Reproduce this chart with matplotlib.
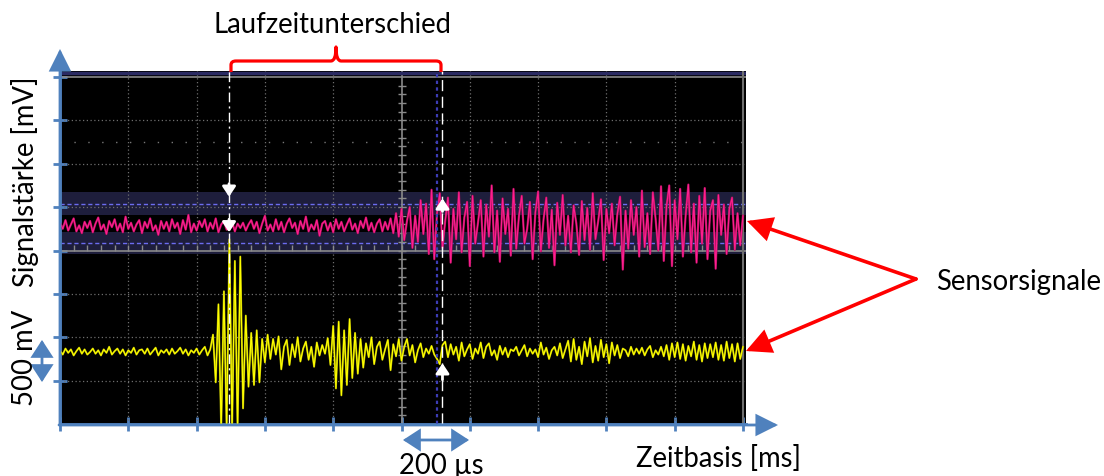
import numpy as np
import matplotlib
matplotlib.use('Agg')
import matplotlib.pyplot as plt
from matplotlib.patches import FancyArrowPatch, PathPatch
from matplotlib.path import Path

plt.rcParams['font.family'] = ['Lato', 'DejaVu Sans']

# scope settings: 10 x 8 divisions
us_per_div = 200
mv_per_div = 500

# channel 2 (magenta), mV around its offset
pink_offset_mv = 280
pink_mv = [
    40, -30, 70, -50, 20, 90, -60, 10, -80, 50, -20, 60, -70, 30, 100, -40, 20, -90, 60, -10,
    80, -50, 30, -70, 110, -30, 40, -60, 20, 70, -80, 50, -20, 90, -50, 10, -100, 60, -30, 50,
    -60, 80, -20, 40, -90, 70, -40, 130, -70, 30, -50, 60, -10, 80, -60, 40, -30, 90, -70, 20,
    60, -40, 10, 50, -60, 30, -20, 40, -50, 20, 70, -30, 50, -80, 30, 120, -50, 20, -60, 80,
    -40, 50, -70, 30, 90, -20, 40, -90, 60, -30, 110, -60, 20, -40, 70, -110, 30, 60, -50, 40,
    -70, 80, -30, 50, -60, 20, 90, -40, 30, -80, 60, -20, 100, -50, 40, -70, 30, 80, -60, 50,
    -40, 90, -80,
    150, -120, 200, -160, 60, 220, -250, 120, -180, 300, -90, 260, -320,
    420, -380, 150, 380, -250, 60, 330, -420, 200, -150, 390, -300, 100, 280, -460, 350, -200, 40, 300, -350,
    250, -120, 470, -300, 180, -410, 320, -90, 200, -340, 430, -260, 120, 350, -200, -30, 280, -380, 160, 400,
    -290, 80, 330, -250, 190, -450, 270, -100, 360, -220, 120, -300, 240, 30, -330, 290, -160, 210, -270, 380,
    -150, 60, 310, -390, 200, -80, 260, -220, 140, 340, -500, 180, -260, 300, -100, 220, -350, 410, -240, 150,
    -320, 390, 90, -280, 460, -400, 230, 470, -460, 300, -150, 430, -350, 120, 480, -300, 260, -420, 350, -200,
    440, -380, 180, 300, -490, 360, -100, 250, -320, 200, 330, -270, 150, -220, 120,
]

# channel 1 (yellow)
yellow_offset_mv = -1170
yellow_mv = [
    20, -30, 40, -10, 30, -40, 10, 50, -20, 30, -30, 0, 40, -20, 20, -40, 30, -10, 60, -30,
    10, 40, -20, 30, -40, 20, -10, 50, -30, 20, 30, -20, 40, -30, 10, 50, -40, 20, -10, 30,
    -30, 40, -20, 10, 50, -20, 30, -40, 20, -10, 40, -30, 20, 60, -40, 30,
    200, -350, 550, -900, 700, -900, 1300, -900, 1050, -900, 1100, -650, 420, -400, 220, -380, 250, -350, 150,
    -120, 200, -80, 150, -30, 180, -200, 60, 140, -150, 90, -60, 170, -110, 40, 120, -90, 60, -170, 110,
    -40, 80, -20, 160,
    -150, 300, -420, 350, -500, 250, -380, 380, -300, 220, -250, 150,
    -180, 100, -60, 170, -140, 60, 120, -90, 30, 140, -210, 90, -50, 150,
    -100, 60, 150, -40, 80, -120, 20, 100, -60, 40, -20, 70, -30, -80, -140, 80,
    120, -60, 90, -30, 60, -100, 110, -50, 30, 90, -80, 40, -20, 110, -70, 60, 100, -40, 20, -90,
    70, -30, 50, -60, 30, 10, 60, -40, 20, 80, -50, 40, -20, 30, -60, 110, -30, 50, -80, 20,
    60, -40, 100, -70, 30, 130, -110, 150, -90, 60, -140, 120, -50, 160, -120, 70, -100, 140, -60, 90,
    -130, 110, -40, 80, -70, 40, 20, -50, 60, -30, 40, -20, 50, -40, 30, 70, -60, 20, -30, 60,
    -50, 80, -90, 100, -60, 110, -80, 90, -100, 70, -50, 120, -90, 80, -110, 100, -70, 90, -60, 110,
    -90, 80, -100, 120, -70, 90, -110, 100, -80, 60,
]

cursor_a_us = 495
cursor_b_us = 1120
cursor_ref_us = 1105

band_mv = (-40, 674)
band_inner_mv = (213, 409)
band_levels_mv = [86, 536]

W, H = 1104, 477
fig = plt.figure(figsize=(W / 100, H / 100), dpi=100)

# scope screen
ax = fig.add_axes([60 / W, (H - 425) / H, 686 / W, 353 / H])
ax.set_facecolor('black')
ax.set_xlim(0, 10 * us_per_div * 686 / 683)
ax.set_ylim(-4 * mv_per_div, 4 * mv_per_div + 6 / 43.375 * mv_per_div)

ax.axhspan(*band_mv, color='#1e1e3c', lw=0, zorder=1)
ax.axhspan(*band_inner_mv, color='black', lw=0, zorder=1.1)
for lv in band_levels_mv:
    ax.axhline(lv, color='#6c6cf0', lw=1, ls=(0, (3, 2)), zorder=2)

grid_c = '#6e6e6e'
for k in range(1, 10):
    if k != 5:
        ax.axvline(k * us_per_div, color=grid_c, lw=0.9, ls=(0, (1, 2)), zorder=2)
for k in range(-3, 4):
    if k != 0:
        ax.axhline(k * mv_per_div, color=grid_c, lw=0.9, ls=(0, (1, 2)), zorder=2)
ax.axhline(2.5 * mv_per_div, color='#777777', lw=1, ls=(0, (1, 9)), zorder=2)

# center axes with minor ticks
ax.axvline(5 * us_per_div, color='#8a8a8a', lw=1.2, zorder=2)
ax.axhline(0, color='#8a8a8a', lw=1.2, zorder=2)
ym = np.arange(-1900, 2000, 100)
ax.plot(np.full(len(ym), 5 * us_per_div), ym, ls='none', marker='_', ms=6, mew=1, color='#8a8a8a', zorder=2)
xm = np.arange(40, 2000, 40)
ax.plot(xm, np.full(len(xm), 25), ls='none', marker='|', ms=4, mew=1, color='#8a8a8a', zorder=2)

ax.axhline(4 * mv_per_div, color='#8a8a8a', lw=1.2, zorder=2)
ax.axhline(4 * mv_per_div + 45, color='#2a2a62', lw=2.5, zorder=2)
ax.axvline(10 * us_per_div, color='#6e6e6e', lw=1.5, zorder=2)

# traces
t_p = np.linspace(0, 10 * us_per_div, len(pink_mv))
t_y = np.linspace(0, 10 * us_per_div, len(yellow_mv))
ax.plot(t_p, pink_offset_mv + np.array(pink_mv), color='#a8105a', lw=1.6, zorder=3)
ax.plot(t_p, pink_offset_mv + np.array(pink_mv), color='#ff1f90', lw=0.8, zorder=4)
ax.plot(t_y, yellow_offset_mv + np.array(yellow_mv), color='#a0a000', lw=1.4, zorder=5)
ax.plot(t_y, yellow_offset_mv + np.array(yellow_mv), color='#ffff00', lw=0.8, zorder=6)

# cursors
ax.axvline(cursor_a_us, color='white', lw=1, ls=(0, (7, 3, 1.5, 3)), zorder=7)
ax.axvline(cursor_ref_us, color='#3c3cb4', lw=1.6, ls=(0, (1.5, 1.5)), zorder=7)
ax.axvline(cursor_b_us, color='white', lw=1, ls=(0, (8, 4)), zorder=7)


def white_arrow(x, y0, y1):
    ax.add_patch(FancyArrowPatch((x, y0), (x, y1), arrowstyle='-|>,head_length=6,head_width=4',
                                 mutation_scale=1, color='white', lw=2, shrinkA=0, shrinkB=0, zorder=8))


white_arrow(cursor_a_us, 770, 620)
white_arrow(cursor_a_us, 360, 210)
white_arrow(cursor_b_us, 450, 600)
white_arrow(cursor_b_us, -1490, -1300)

blue = '#4f81bd'
ax.set_xticks(np.arange(0, 10 * us_per_div + 1, us_per_div))
ax.set_yticks(np.arange(-3 * mv_per_div, 4 * mv_per_div + 1, mv_per_div))
ax.set_xticklabels([])
ax.set_yticklabels([])
ax.tick_params(direction='inout', length=10, width=2, color=blue)
for s in ['top', 'right']:
    ax.spines[s].set_visible(False)
for s in ['left', 'bottom']:
    ax.spines[s].set_color(blue)
    ax.spines[s].set_linewidth(2)

# annotation layer in pixel coordinates
ov = fig.add_axes([0, 0, 1, 1])
ov.set_xlim(0, W)
ov.set_ylim(H, 0)
ov.axis('off')
ov.patch.set_alpha(0)


def arrow(p0, p1, style, color, lw, hl, hw):
    ov.add_patch(FancyArrowPatch(p0, p1, arrowstyle=f'{style},head_length={hl},head_width={hw}',
                                 mutation_scale=1, color=color, lw=lw, shrinkA=0, shrinkB=0,
                                 capstyle='round', joinstyle='miter'))


arrow((60, 426), (60, 50), '-|>', blue, 2, 13, 6.5)
arrow((59, 426), (778, 426), '-|>', blue, 2, 13, 6.5)
arrow((42, 341), (42, 383), '<|-|>', blue, 2, 10, 6.5)
arrow((403, 441), (469, 441), '<|-|>', blue, 2, 10, 6.5)
arrow((916, 280), (747, 222), '-|>', 'red', 2.6, 14, 7)
arrow((916, 280), (746, 352), '-|>', 'red', 2.6, 14, 7)

# brace between the two cursors
verts = [(231, 73), (231, 66), (231, 62), (236, 62), (331, 62), (336, 62), (336, 48),
         (336, 62), (341, 62), (436, 62), (441, 62), (441, 66), (441, 73)]
codes = [Path.MOVETO, Path.LINETO, Path.CURVE3, Path.CURVE3, Path.LINETO, Path.CURVE3, Path.CURVE3,
         Path.CURVE3, Path.CURVE3, Path.LINETO, Path.CURVE3, Path.CURVE3, Path.LINETO]
ov.add_patch(PathPatch(Path(verts, codes), fill=False, edgecolor='red', lw=2.3, joinstyle='round'))

fs = 19.8
ov.text(332, 33, 'Laufzeitunterschied', ha='center', va='baseline', fontsize=fs)
ov.text(1019, 290, 'Sensorsignale', ha='center', va='baseline', fontsize=fs)
ov.text(718, 467, 'Zeitbasis [ms]', ha='center', va='baseline', fontsize=fs)
ov.text(441, 474, '200 µs', ha='center', va='baseline', fontsize=fs)
ov.text(25, 182, 'Signalstärke [mV]', ha='center', va='center', rotation=90, fontsize=fs)
ov.text(25, 358, '500 mV', ha='center', va='center', rotation=90, fontsize=fs)

fig.savefig('out.png', dpi=100)
